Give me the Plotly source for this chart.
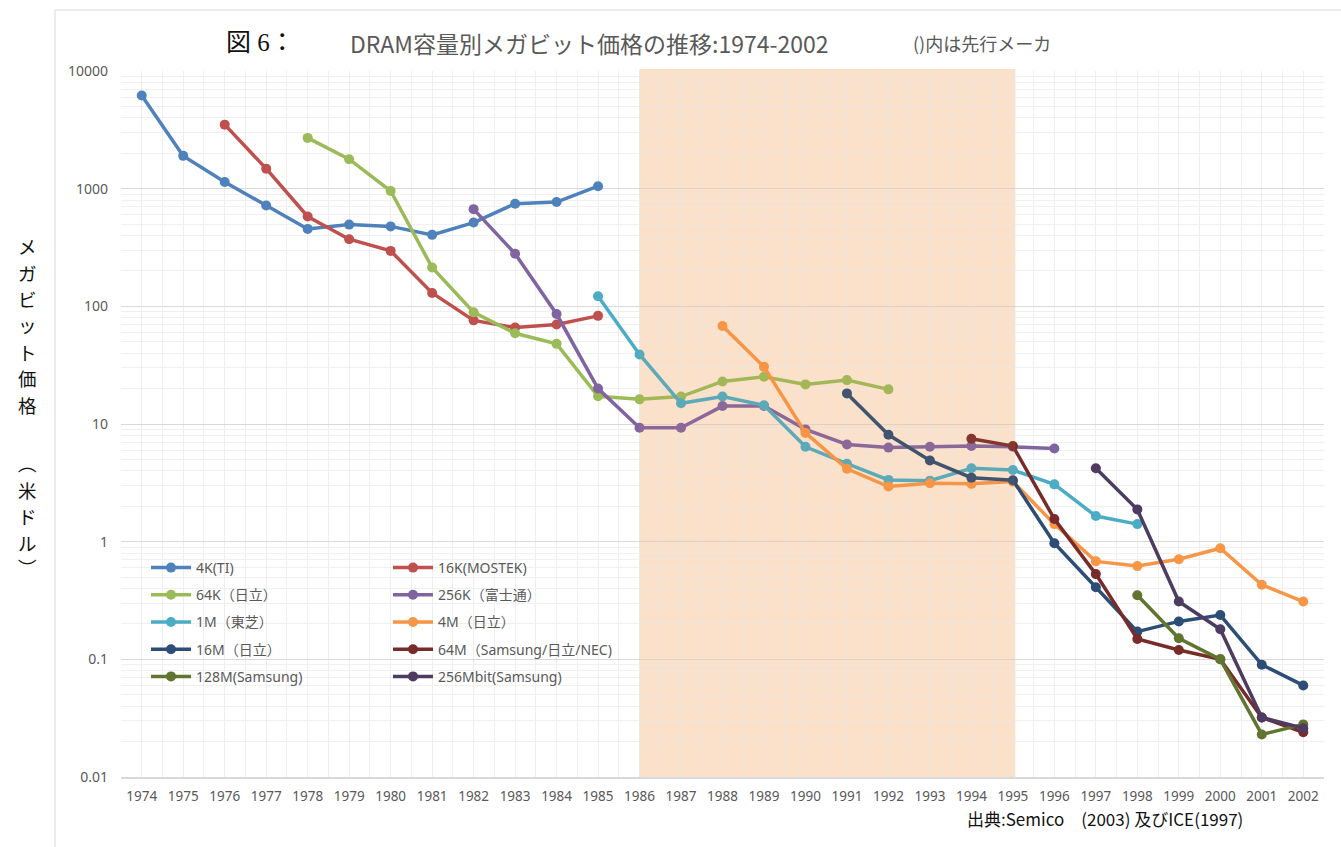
import plotly.graph_objects as go

# ---------------- data ----------------
years_4k = [1974, 1975, 1976, 1977, 1978, 1979, 1980, 1981, 1982, 1983, 1984, 1985]
price_4k = [6200, 1900, 1140, 720, 455, 495, 478, 405, 515, 745, 770, 1050]

years_16k = [1976, 1977, 1978, 1979, 1980, 1981, 1982, 1983, 1984, 1985]
price_16k = [3500, 1480, 580, 372, 296, 130, 76, 66, 70, 83]

years_64k = [1978, 1979, 1980, 1981, 1982, 1983, 1984, 1985, 1986, 1987, 1988, 1989, 1990, 1991, 1992]
price_64k = [2700, 1780, 955, 214, 89, 59, 48, 17.2, 16.2, 17.1, 23, 25.2, 21.7, 23.6, 19.7]

years_256k = [1982, 1983, 1984, 1985, 1986, 1987, 1988, 1989, 1990, 1991, 1992, 1993, 1994, 1995, 1996]
price_256k = [670, 280, 86, 20, 9.3, 9.3, 14.2, 14.2, 9.0, 6.7, 6.3, 6.4, 6.5, 6.4, 6.2]

years_1m = [1985, 1986, 1987, 1988, 1989, 1990, 1991, 1992, 1993, 1994, 1995, 1996, 1997, 1998]
price_1m = [122, 39, 15, 17.1, 14.4, 6.4, 4.6, 3.35, 3.3, 4.2, 4.07, 3.07, 1.65, 1.41]

years_4m = [1988, 1989, 1990, 1991, 1992, 1993, 1994, 1995, 1996, 1997, 1998, 1999, 2000, 2001, 2002]
price_4m = [68, 30.6, 8.4, 4.16, 2.94, 3.14, 3.1, 3.24, 1.41, 0.68, 0.62, 0.71, 0.88, 0.43, 0.31]

years_16m = [1991, 1992, 1993, 1994, 1995, 1996, 1997, 1998, 1999, 2000, 2001, 2002]
price_16m = [18.2, 8.1, 4.9, 3.5, 3.33, 0.97, 0.41, 0.172, 0.21, 0.238, 0.090, 0.060]

years_64m = [1994, 1995, 1996, 1997, 1998, 1999, 2000, 2001, 2002]
price_64m = [7.5, 6.5, 1.56, 0.53, 0.149, 0.12, 0.10, 0.032, 0.024]

years_128m = [1998, 1999, 2000, 2001, 2002]
price_128m = [0.35, 0.151, 0.10, 0.023, 0.028]

years_256m = [1997, 1998, 1999, 2000, 2001, 2002]
price_256m = [4.2, 1.88, 0.31, 0.18, 0.032, 0.026]

x_tick_years = [1974, 1975, 1976, 1977, 1978, 1979, 1980, 1981, 1982, 1983,
                1984, 1985, 1986, 1987, 1988, 1989, 1990, 1991, 1992, 1993,
                1994, 1995, 1996, 1997, 1998, 1999, 2000, 2001, 2002]
y_tick_vals = [0.01, 0.1, 1, 10, 100, 1000, 10000]
y_tick_text = ["0.01", "0.1", "1", "10", "100", "1000", "10000"]

shade_start, shade_end = 1986, 1995.06

# y-axis title, written vertically one character at a time
y_title_chars = ["メ", "ガ", "ビ", "ッ", "ト", "価", "格", "︵", "米", "ド", "ル", "︶"]

# (name, years, values, colour, legend)
series = [
    ("4K(TI)", years_4k, price_4k, "#4F81BD", "legend"),
    ("16K(MOSTEK)", years_16k, price_16k, "#C0504D", "legend2"),
    ("64K（日立）", years_64k, price_64k, "#9BBB59", "legend"),
    ("256K（富士通）", years_256k, price_256k, "#8064A2", "legend2"),
    ("1M（東芝）", years_1m, price_1m, "#4BACC6", "legend"),
    ("4M（日立）", years_4m, price_4m, "#F79646", "legend2"),
    ("16M（日立）", years_16m, price_16m, "#2C4D75", "legend"),
    ("64M（Samsung/日立/NEC)", years_64m, price_64m, "#772C2A", "legend2"),
    ("128M(Samsung)", years_128m, price_128m, "#5F7530", "legend"),
    ("256Mbit(Samsung)", years_256m, price_256m, "#4D3B62", "legend2"),
]

# ---------------- layout geometry ----------------
W, H = 1341, 847
ML, MR, MT, MB = 121, 17, 71, 70
PW, PH = W - ML - MR, H - MT - MB


def px_x(px):
    return (px - ML) / PW


def px_y(py):
    return (H - MB - py) / PH


TEXT = "#595959"
FONT = "Noto Sans, Noto Sans CJK JP, sans-serif"
CJK = "Noto Sans CJK JP, Noto Sans, sans-serif"

fig = go.Figure()
for i, (name, xs, ys, col, lg) in enumerate(series):
    fig.add_trace(go.Scatter(
        x=xs, y=ys, name=name, mode="lines+markers",
        line=dict(color=col, width=3.5),
        marker=dict(color=col, size=10, line=dict(width=0)),
        legend=lg, legendgroup=f"g{i}",
    ))

legend_common = dict(
    font=dict(family=FONT, size=14, color=TEXT),
    bgcolor="rgba(0,0,0,0)", borderwidth=0,
    orientation="v", xanchor="left", yanchor="top",
    tracegroupgap=6, itemwidth=40, itemclick=False,
)

annotations = [
    dict(text="図 6：", xref="paper", yref="paper", x=px_x(224), y=px_y(43),
         xanchor="left", yanchor="middle", showarrow=False,
         font=dict(family="Liberation Serif, Noto Sans CJK JP, serif", size=25, color="#111111")),
    dict(text="DRAM容量別メガビット価格の推移:1974-2002", xref="paper", yref="paper",
         x=px_x(348), y=px_y(43), xanchor="left", yanchor="middle", showarrow=False,
         font=dict(family=CJK, size=23, color=TEXT)),
    dict(text="()内は先行メーカ", xref="paper", yref="paper",
         x=px_x(911), y=px_y(43), xanchor="left", yanchor="middle", showarrow=False,
         font=dict(family=CJK, size=18, color=TEXT)),
    dict(text="出典:Semico　(2003) 及びICE(1997)", xref="paper", yref="paper",
         x=px_x(965), y=px_y(818), xanchor="left", yanchor="middle", showarrow=False,
         font=dict(family=CJK, size=17, color="#111111")),
]
# vertical y-axis title character positions (pixel rows)
y_title_rows = [246, 273, 299, 325, 352, 378, 405, 463, 490, 516, 543, 567]
for ch, row in zip(y_title_chars, y_title_rows):
    annotations.append(dict(
        text=ch, xref="paper", yref="paper", x=px_x(27), y=px_y(row),
        xanchor="center", yanchor="middle", showarrow=False,
        font=dict(family=CJK, size=18.5, color="#111111")))

fig.update_layout(
    width=W, height=H,
    margin=dict(l=ML, r=MR, t=MT, b=MB),
    paper_bgcolor="white", plot_bgcolor="white",
    showlegend=True,
    legend=dict(x=px_x(146), y=px_y(552), **legend_common),
    legend2=dict(x=px_x(388), y=px_y(552), **legend_common),
    xaxis=dict(
        range=[1973.5, 2002.5], tickmode="array", tickvals=x_tick_years,
        ticktext=[str(v) for v in x_tick_years],
        showgrid=True, gridcolor="#eeeeee", gridwidth=1,
        minor=dict(dtick=0.5, tick0=1973.5, showgrid=True, gridcolor="#eeeeee", gridwidth=1),
        showline=True, linecolor="#d9d9d9", linewidth=2,
        ticks="", zeroline=False, ticklabelstandoff=6,
        tickfont=dict(family=FONT, size=13.5, color=TEXT),
    ),
    yaxis=dict(
        type="log", range=[-2, 4], tickmode="array",
        tickvals=y_tick_vals, ticktext=y_tick_text,
        showgrid=True, gridcolor="#d9d9d9", gridwidth=1,
        minor=dict(dtick="D1", showgrid=True, gridcolor="#f0f0f0", gridwidth=1),
        showline=False, ticks="", zeroline=False, ticklabelstandoff=12,
        tickfont=dict(family=FONT, size=14, color=TEXT),
    ),
    shapes=[
        # chart frame
        dict(type="rect", xref="paper", yref="paper",
             x0=px_x(55), x1=px_x(1400), y0=px_y(900), y1=px_y(10),
             line=dict(color="#d9d9d9", width=1), fillcolor="rgba(0,0,0,0)", layer="below"),
        # shaded period 1986-1995
        dict(type="rect", xref="x", yref="paper", x0=shade_start, x1=shade_end, y0=0, y1=1.003,
             fillcolor="rgba(247,150,70,0.20)", line=dict(width=0), layer="between"),
        dict(type="rect", xref="x", yref="paper", x0=shade_start, x1=shade_end, y0=0, y1=1.003,
             fillcolor="rgba(247,150,70,0.10)", line=dict(width=0), layer="above"),
    ],
    annotations=annotations,
)

fig.write_html("out.html", config={"displayModeBar": False},
               post_script="document.body.style.margin='0';")
